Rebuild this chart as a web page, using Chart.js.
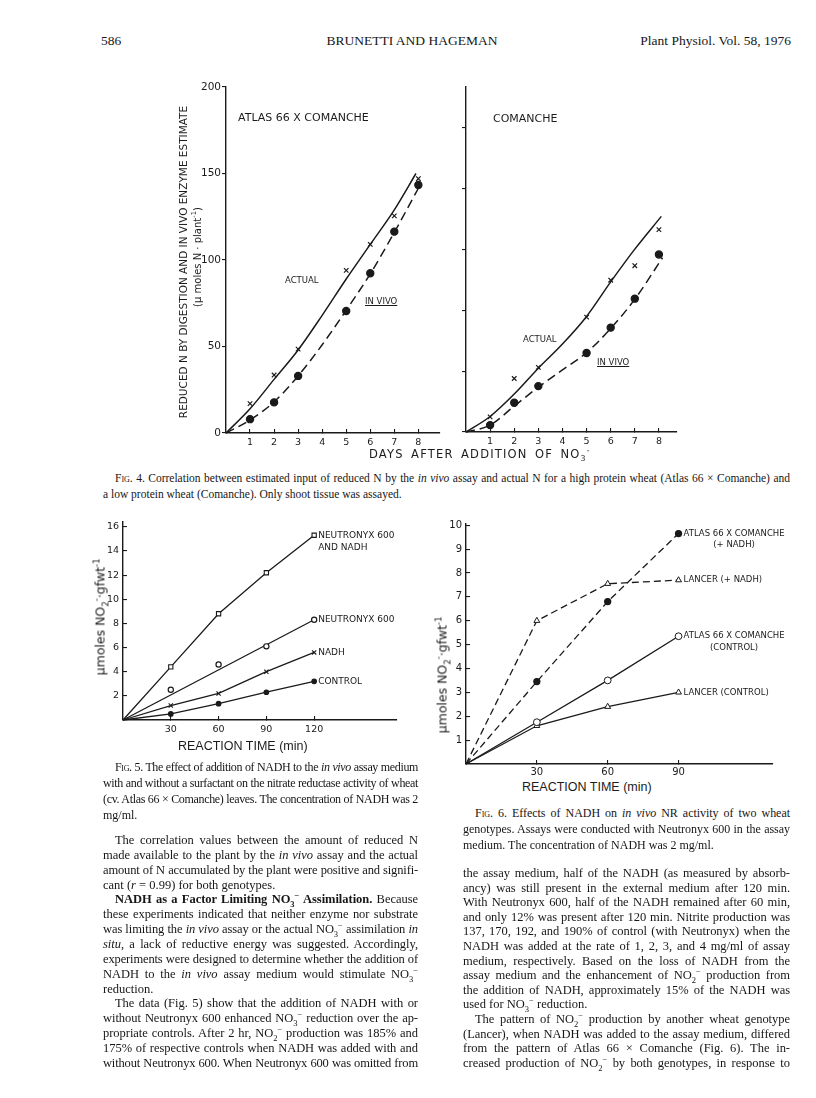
<!DOCTYPE html>
<html>
<head>
<meta charset="utf-8">
<script src="https://cdn.jsdelivr.net/npm/chart.js@4.4.1/dist/chart.umd.min.js"></script>
<style>
  html, body { margin: 0; padding: 0; background: #fff; }
  body { width: 816px; height: 1098px; position: relative; overflow: hidden; color: #161616; }
  canvas { position: absolute; }
  .t { position: absolute; white-space: nowrap; font-family: "Liberation Serif", serif; }
  .lab { position: absolute; white-space: nowrap; font-family: "DejaVu Sans", sans-serif; color: #1c1c1c; transform: translateY(-50%); }
  .rot { position: absolute; white-space: nowrap; font-family: "DejaVu Sans", sans-serif; color: #1c1c1c; transform: translate(-50%, -50%) rotate(-90deg); }
  .ln { position: absolute; font-family: "Liberation Serif", serif; text-align: justify; text-align-last: justify; }
  .ln.end { text-align-last: left; }
  .sc { font-variant: small-caps; }
  sub, sup { font-size: 68%; line-height: 0; }
</style>
</head>
<body>
<canvas id="fig4a" width="274" height="376" style="left:176px;top:80px"></canvas>
<canvas id="fig4b" width="240" height="376" style="left:446px;top:80px"></canvas>
<canvas id="fig5" width="305" height="225" style="left:100px;top:515px"></canvas>
<canvas id="fig6" width="345" height="265" style="left:440px;top:515px"></canvas>

<div class="t" style="left:101px;top:33px;font-size:13.5px">586</div>
<div class="t" style="left:412px;top:33px;font-size:13.5px;transform:translateX(-50%)">BRUNETTI AND HAGEMAN</div>
<div class="t" style="right:25px;top:33px;font-size:13.5px">Plant Physiol. Vol. 58, 1976</div>

<!-- fig 4 lettering -->
<div class="lab" style="left:238px;top:117px;font-size:11px">ATLAS 66 X COMANCHE</div>
<div class="lab" style="left:493px;top:118px;font-size:11px">COMANCHE</div>
<div class="lab" style="left:285px;top:280px;font-size:8.5px">ACTUAL</div>
<div class="lab" style="left:365px;top:301px;font-size:8.5px;text-decoration:underline">IN VIVO</div>
<div class="lab" style="left:523px;top:339px;font-size:8.5px">ACTUAL</div>
<div class="lab" style="left:597px;top:362px;font-size:8.5px;text-decoration:underline">IN VIVO</div>
<div class="rot" style="left:183px;top:262px;font-size:10.5px">REDUCED N BY DIGESTION AND IN VIVO ENZYME ESTIMATE</div>
<div class="rot" style="left:197px;top:257px;font-size:10px">(μ moles N · plant<sup>-1</sup>)</div>
<div class="lab" style="left:369px;top:454px;font-size:11.5px;letter-spacing:1.2px;word-spacing:2.5px">DAYS AFTER ADDITION OF NO<sub>3</sub><sup>-</sup></div>

<!-- fig 5 / 6 axis titles -->
<div class="rot" style="left:100px;top:617px;font-size:12.5px">μmoles NO<sub>2</sub><sup>-</sup>·gfwt<sup>-1</sup></div>
<div class="lab" style="left:178px;top:746px;font-family:'Liberation Sans';font-size:12.5px">REACTION TIME (min)</div>
<div class="rot" style="left:442px;top:675px;font-size:12.5px">μmoles NO<sub>2</sub><sup>-</sup>·gfwt<sup>-1</sup></div>
<div class="lab" style="left:522px;top:787px;font-family:'Liberation Sans';font-size:12.5px">REACTION TIME (min)</div>

<script>
// Fig. 4 - days after NO3- addition
const fig4Days = [1, 2, 3, 5, 6, 7, 8];
const atlasActual = [17, 33.5, 48.5, 94, 109, 125.5, 147];
const atlasInVivo = [8, 17.7, 33, 70.5, 92.3, 116.4, 143.4];
const atlasActualCurveX = [0, 1, 2, 3, 4, 5, 6, 7, 7.9];
const atlasActualCurveY = [0, 14, 31, 48, 68, 89, 109, 129, 150];
const atlasInVivoCurveX = [0, 1, 2, 3, 4, 5, 6, 7, 8.1];
const atlasInVivoCurveY = [0, 7.5, 18, 33, 51, 71, 92, 116, 144];
const comancheActual = [8.8, 31, 37.5, 66.6, 88, 96.4, 117.3];
const comancheInVivo = [4, 17, 26.6, 45.8, 60.5, 77.3, 102.9];
const comancheActualCurveX = [0, 1, 2, 3, 4, 5, 6, 7, 8.1];
const comancheActualCurveY = [0, 9, 22, 37, 51, 67, 87, 106, 125];
const comancheInVivoCurveX = [0, 1, 2, 3, 4, 5, 6, 7, 8.15];
const comancheInVivoCurveY = [0, 4, 15, 26, 36, 46, 60, 77, 101];
const fig4XTicks = [1, 2, 3, 4, 5, 6, 7, 8];
const fig4YTicks = [0, 50, 100, 150, 200];
const comancheYTicks = [0, 35.3, 70.6, 105.9, 141.2, 176.5];

// Fig. 5 - reaction time (min)
const fig5Times = [30, 60, 90, 120];
const neutNadh = [4.4, 8.8, 12.2, 15.3];
const neut600 = [2.5, 4.6, 6.1, 8.3];
const neut600FitX = [0, 120];
const neut600FitY = [0, 8.3];
const nadhOnly = [1.2, 2.2, 4.0, 5.6];
const control5 = [0.5, 1.35, 2.3, 3.2];
const fig5XTicks = [30, 60, 90, 120];
const fig5YTicks = [2, 4, 6, 8, 10, 12, 14, 16];

// Fig. 6 - two genotypes
const fig6Times = [30, 60, 90];
const atlasNadh6 = [3.45, 6.8, 9.65];
const lancerNadh6 = [6.0, 7.55, 7.7];
const atlasCtl6 = [1.75, 3.5, 5.35];
const lancerCtl6 = [1.6, 2.4, 3.0];
const fig6XTicks = [30, 60, 90];
const fig6YTicks = [1, 2, 3, 4, 5, 6, 7, 8, 9, 10];

const INK = '#1a1a1a';
const pts = (xs, ys) => xs.map((x, i) => ({ x: x, y: ys[i] }));
const withOrigin = (xs, ys) => pts([0].concat(xs), [0].concat(ys));

function axis(min, max, tickVals, o) {
  return {
    type: 'linear', min: min, max: max,
    afterBuildTicks: s => { s.ticks = tickVals.map(v => ({ value: v })); },
    afterFit: s => {
      if (o.w !== undefined) s.width = o.w;
      if (o.h !== undefined) s.height = o.h;
      s.paddingLeft = s.paddingRight = s.paddingTop = s.paddingBottom = 0;
    },
    grid: { drawOnChartArea: false, drawTicks: true, tickLength: o.tl, color: INK, lineWidth: 1.1 },
    border: { display: true, color: INK, width: 1.4 },
    ticks: {
      display: o.labels !== false, padding: o.pad, color: INK, autoSkip: false, maxRotation: 0,
      font: { family: 'DejaVu Sans', size: o.fs || 10 },
      callback: v => String(v)
    }
  };
}

const endLabels = {
  id: 'endLabels',
  afterDatasetsDraw(chart, args, opts) {
    if (!opts.items) return;
    const ctx = chart.ctx;
    ctx.save();
    ctx.fillStyle = INK;
    ctx.font = opts.font;
    ctx.textBaseline = 'middle';
    opts.items.forEach(it => {
      const meta = chart.getDatasetMeta(it.ds);
      const p = meta.data[meta.data.length - 1];
      const x0 = p.x + opts.dx, y0 = p.y + (it.dy || 0);
      const w0 = ctx.measureText(it.lines[0]).width;
      it.lines.forEach((s, k) => {
        const w = ctx.measureText(s).width;
        const x = (k > 0 && opts.center) ? x0 + (w0 - w) / 2 : x0;
        ctx.fillText(s, x, y0 + k * opts.lh);
      });
    });
    ctx.restore();
  }
};

function baseOptions(pad, scales, labels) {
  return {
    responsive: false, animation: false, devicePixelRatio: 1,
    layout: { padding: pad },
    scales: scales,
    plugins: { legend: { display: false }, tooltip: { enabled: false }, endLabels: labels || {} }
  };
}

function curve(xs, ys, dash) {
  return { data: pts(xs, ys), showLine: true, borderColor: INK, borderWidth: 1.5, borderDash: dash || [],
           pointRadius: 0, cubicInterpolationMode: 'monotone', clip: false };
}
function marks(xs, ys, style, r, fill) {
  return { data: pts(xs, ys), showLine: false, pointStyle: style, pointRadius: r,
           pointBorderColor: INK, pointBackgroundColor: fill ? INK : '#fff', pointBorderWidth: 1.2, clip: false };
}

// Fig. 4, Atlas 66 x Comanche
new Chart(document.getElementById('fig4a'), {
  type: 'scatter',
  data: { datasets: [
    curve(atlasActualCurveX, atlasActualCurveY),
    curve(atlasInVivoCurveX, atlasInVivoCurveY, [9, 5]),
    marks(fig4Days, atlasActual, 'crossRot', 3.2, false),
    marks(fig4Days, atlasInVivo, 'circle', 3.6, true)
  ]},
  options: baseOptions({ left: 0, top: 7, right: 10, bottom: 0 }, {
    x: axis(0, 8.9, fig4XTicks, { h: 23, tl: -4, pad: 8, fs: 9.5 }),
    y: axis(0, 200, fig4YTicks, { w: 50, tl: 4, pad: 1, fs: 10.5 })
  })
});

// Fig. 4, Comanche
new Chart(document.getElementById('fig4b'), {
  type: 'scatter',
  data: { datasets: [
    curve(comancheActualCurveX, comancheActualCurveY),
    curve(comancheInVivoCurveX, comancheInVivoCurveY, [9, 5]),
    marks(fig4Days, comancheActual, 'crossRot', 3.2, false),
    marks(fig4Days, comancheInVivo, 'circle', 3.6, true)
  ]},
  options: baseOptions({ left: 0, top: 7, right: 9, bottom: 0 }, {
    x: axis(0, 8.75, fig4XTicks, { h: 24, tl: -4, pad: 8, fs: 9.5 }),
    y: axis(0, 200, comancheYTicks, { w: 20, tl: 4, pad: 1, labels: false })
  })
});

// Fig. 5
const lineDs = (xs, ys, dash) => ({ data: withOrigin(xs, ys), showLine: true, borderColor: INK, borderWidth: 1.3,
  borderDash: dash || [], pointRadius: 0, clip: false });
new Chart(document.getElementById('fig5'), {
  type: 'scatter',
  data: { datasets: [
    Object.assign(lineDs(fig5Times, neutNadh), { pointStyle: 'rect', pointRadius: c => c.dataIndex ? 3 : 0,
      pointBorderColor: INK, pointBackgroundColor: '#fff', pointBorderWidth: 1.1 }),
    marks(fig5Times, neut600, 'circle', 2.6, false),
    Object.assign(lineDs(fig5Times, nadhOnly), { pointStyle: 'crossRot', pointRadius: c => c.dataIndex ? 3 : 0,
      pointBorderColor: INK, pointBorderWidth: 1.1 }),
    Object.assign(lineDs(fig5Times, control5), { pointStyle: 'circle', pointRadius: c => c.dataIndex ? 2.2 : 0,
      pointBorderColor: INK, pointBackgroundColor: INK }),
    { data: pts(neut600FitX, neut600FitY), showLine: true, borderColor: INK, borderWidth: 1.3, pointRadius: 0, clip: false }
  ]},
  options: baseOptions({ left: 0, top: 7, right: 8, bottom: 0 }, {
    x: axis(0, 172, fig5XTicks, { h: 20, tl: -4, pad: 8, fs: 9.5 }),
    y: axis(0, 16.4, fig5YTicks, { w: 23, tl: -4, pad: 8, fs: 9.5 })
  }, { font: '9px "DejaVu Sans"', dx: 4, lh: 12, center: false, items: [
    { ds: 0, lines: ['NEUTRONYX 600', 'AND NADH'] },
    { ds: 1, lines: ['NEUTRONYX 600'] },
    { ds: 2, lines: ['NADH'] },
    { ds: 3, lines: ['CONTROL'] }
  ]}),
  plugins: [endLabels]
});

// Fig. 6
new Chart(document.getElementById('fig6'), {
  type: 'scatter',
  data: { datasets: [
    Object.assign(lineDs(fig6Times, atlasNadh6, [7, 4]), { pointStyle: 'circle', pointRadius: c => c.dataIndex ? 3 : 0,
      pointBorderColor: INK, pointBackgroundColor: INK }),
    Object.assign(lineDs(fig6Times, lancerNadh6, [7, 4]), { pointStyle: 'triangle', pointRadius: c => c.dataIndex ? 3.4 : 0,
      pointBorderColor: INK, pointBackgroundColor: '#fff', pointBorderWidth: 1 }),
    Object.assign(lineDs(fig6Times, atlasCtl6), { pointStyle: 'circle', pointRadius: c => c.dataIndex ? 3.4 : 0,
      pointBorderColor: INK, pointBackgroundColor: '#fff', pointBorderWidth: 1 }),
    Object.assign(lineDs(fig6Times, lancerCtl6), { pointStyle: 'triangle', pointRadius: c => c.dataIndex ? 3.4 : 0,
      pointBorderColor: INK, pointBackgroundColor: '#fff', pointBorderWidth: 1 })
  ]},
  options: baseOptions({ left: 0, top: 9, right: 12, bottom: 0 }, {
    x: axis(0, 130, fig6XTicks, { h: 16, tl: -4, pad: 6, fs: 10 }),
    y: axis(0, 10.05, fig6YTicks, { w: 26, tl: -4, pad: 8, fs: 10 })
  }, { font: '8.5px "DejaVu Sans"', dx: 5, lh: 11.5, center: true, items: [
    { ds: 0, lines: ['ATLAS 66 X COMANCHE', '(+ NADH)'] },
    { ds: 1, lines: ['LANCER (+ NADH)'] },
    { ds: 2, lines: ['ATLAS 66 X COMANCHE', '(CONTROL)'] },
    { ds: 3, lines: ['LANCER (CONTROL)'] }
  ]}),
  plugins: [endLabels]
});

// page text
const NO3 = 'NO<sub>3</sub><sup>−</sup>', NO2 = 'NO<sub>2</sub><sup>−</sup>';
function textBlock(lines, x, y0, width, step, size) {
  lines.forEach((l, i) => {
    const d = document.createElement('div');
    d.className = 'ln' + (l.end ? ' end' : '');
    d.style.left = x + 'px';
    d.style.top = (y0 + i * step - 8) + 'px';
    d.style.width = width + 'px';
    d.style.fontSize = size + 'px';
    d.style.lineHeight = '16px';
    d.style.whiteSpace = 'nowrap';
    if (l.ind) d.style.textIndent = l.ind + 'px';
    d.innerHTML = '<span>' + l.h + '</span>';
    document.body.appendChild(d);
    const sp = d.firstChild;
    const w = sp.getBoundingClientRect().width + (l.ind || 0);
    if (w > width - 1) d.style.letterSpacing = ((width - 2 - w) / sp.textContent.length) + 'px';
    d.style.whiteSpace = 'normal';
  });
}
const L = (h, o) => Object.assign({ h: h }, o || {});

textBlock([
  L('<span class="sc">Fig</span>. 4. Correlation between estimated input of reduced N by the <i>in vivo</i> assay and actual N for a high protein wheat (Atlas 66 × Comanche) and', { ind: 12 }),
  L('a low protein wheat (Comanche). Only shoot tissue was assayed.', { end: true })
], 103, 478, 687, 16, 11.5);

textBlock([
  L('<span class="sc">Fig</span>. 5. The effect of addition of NADH to the <i>in vivo</i> assay medium', { ind: 12 }),
  L('with and without a surfactant on the nitrate reductase activity of wheat'),
  L('(cv. Atlas 66 × Comanche) leaves. The concentration of NADH was 2'),
  L('mg/ml.', { end: true })
], 103, 767, 315, 16, 12);

textBlock([
  L('<span class="sc">Fig</span>. 6. Effects of NADH on <i>in vivo</i> NR activity of two wheat', { ind: 12 }),
  L('genotypes. Assays were conducted with Neutronyx 600 in the assay'),
  L('medium. The concentration of NADH was 2 mg/ml.', { end: true })
], 463, 813, 327, 16, 12);

textBlock([
  L('The correlation values between the amount of reduced N', { ind: 12 }),
  L('made available to the plant by the <i>in vivo</i> assay and the actual'),
  L('amount of N accumulated by the plant were positive and signifi-'),
  L('cant (<i>r</i> = 0.99) for both genotypes.', { end: true }),
  L('<b>NADH as a Factor Limiting ' + NO3 + ' Assimilation.</b> Because', { ind: 12 }),
  L('these experiments indicated that neither enzyme nor substrate'),
  L('was limiting the <i>in vivo</i> assay or the actual ' + NO3 + ' assimilation <i>in</i>'),
  L('<i>situ</i>, a lack of reductive energy was suggested. Accordingly,'),
  L('experiments were designed to determine whether the addition of'),
  L('NADH to the <i>in vivo</i> assay medium would stimulate ' + NO3),
  L('reduction.', { end: true }),
  L('The data (Fig. 5) show that the addition of NADH with or', { ind: 12 }),
  L('without Neutronyx 600 enhanced ' + NO3 + ' reduction over the ap-'),
  L('propriate controls. After 2 hr, ' + NO2 + ' production was 185% and'),
  L('175% of respective controls when NADH was added with and'),
  L('without Neutronyx 600. When Neutronyx 600 was omitted from')
], 103, 840, 315, 14.85, 12.5);

textBlock([
  L('the assay medium, half of the NADH (as measured by absorb-'),
  L('ancy) was still present in the external medium after 120 min.'),
  L('With Neutronyx 600, half of the NADH remained after 60 min,'),
  L('and only 12% was present after 120 min. Nitrite production was'),
  L('137, 170, 192, and 190% of control (with Neutronyx) when the'),
  L('NADH was added at the rate of 1, 2, 3, and 4 mg/ml of assay'),
  L('medium, respectively. Based on the loss of NADH from the'),
  L('assay medium and the enhancement of ' + NO2 + ' production from'),
  L('the addition of NADH, approximately 15% of the NADH was'),
  L('used for ' + NO3 + ' reduction.', { end: true }),
  L('The pattern of ' + NO2 + ' production by another wheat genotype', { ind: 12 }),
  L('(Lancer), when NADH was added to the assay medium, differed'),
  L('from the pattern of Atlas 66 × Comanche (Fig. 6). The in-'),
  L('creased production of ' + NO2 + ' by both genotypes, in response to')
], 463, 873, 327, 14.6, 12.5);
</script>
</body>
</html>
